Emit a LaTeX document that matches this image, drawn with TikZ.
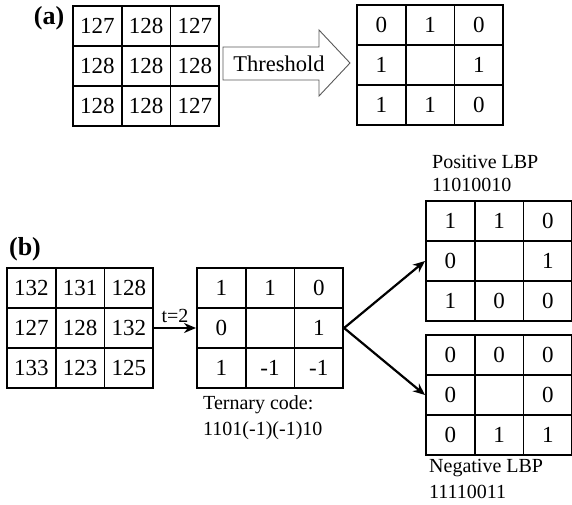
\documentclass[tikz,border=0pt]{standalone}
\usepackage{fontspec}
\setmainfont{Liberation Serif}
\usetikzlibrary{matrix,arrows.meta}

\tikzset{
  gridcell/.style={draw, line width=1.6pt, minimum width=48.7pt, minimum height=40pt,
    inner sep=0pt, font=\fontsize{23}{26}\selectfont, anchor=center},
  grid/.style={matrix of nodes, inner sep=0pt, nodes={gridcell},
    column sep=-1.6pt, row sep=-1.6pt, nodes in empty cells},
  captext/.style={font=\fontsize{20}{22}\selectfont, inner sep=0pt, anchor=west},
  tag/.style={font=\bfseries\fontsize{26}{28}\selectfont, inner sep=0pt},
  flow/.style={line width=2.2pt, -{Stealth[length=12pt,width=10pt]}},
}

\begin{document}
\begin{tikzpicture}[x=1pt,y=-1pt]
\useasboundingbox (0,0) rectangle (572,505);

% (a) thresholding of a 3x3 neighbourhood
\node[tag] (la) at (49,18) {(a)};
\matrix (A1) [grid, anchor=north west] at (72,5) {
  127 & 128 & 127 \\
  128 & 128 & 128 \\
  128 & 128 & 127 \\
};
\matrix (A2) [grid, anchor=north west] at (356,4) {
  0 & 1 & 0 \\
  1 &   & 1 \\
  1 & 1 & 0 \\
};
% hollow block arrow
\draw[line width=0.9pt, draw=black!65]
  (223,47) -- (319,47) -- (319,30) -- (350,63) -- (319,96) -- (319,80) -- (223,80) -- cycle;
\node[font=\fontsize{22.5}{24}\selectfont, inner sep=0pt] (thr) at (279,64) {Threshold};

% (b) local ternary pattern split into two binary patterns
\node[tag] (lb) at (25,249) {(b)};
\matrix (B1) [grid, anchor=north west] at (6,267) {
  132 & 131 & 128 \\
  127 & 128 & 132 \\
  133 & 123 & 125 \\
};
\matrix (B2) [grid, anchor=north west] at (196,267) {
  1 & 1  & 0 \\
  0 &    & 1 \\
  1 & -1 & -1 \\
};
\matrix (BP) [grid, anchor=north west] at (425,200) {
  1 & 1 & 0 \\
  0 &   & 1 \\
  1 & 0 & 0 \\
};
\matrix (BN) [grid, anchor=north west] at (425,334) {
  0 & 0 & 0 \\
  0 &   & 0 \\
  0 & 1 & 1 \\
};

\draw[flow] (B1.east) -- (B2.west) node[midway, above=4pt, font=\fontsize{20}{22}\selectfont, inner sep=0pt] (t) {t=2};
\coordinate (split) at (B2.east);
\draw[flow] (split) -- (BP.west);
\draw[flow] (split) -- (BN.west);

\node[captext] (tc1) at (203,405) {Ternary code:};
\node[captext] (tc2) at (203,431) {1101(-1)(-1)10};
\node[captext] (pl1) at (432,162) {Positive LBP};
\node[captext] (pl2) at (432,185) {11010010};
\node[captext] (nl1) at (429,468) {Negative LBP};
\node[captext] (nl2) at (429,492) {11110011};
\end{tikzpicture}
\end{document}
